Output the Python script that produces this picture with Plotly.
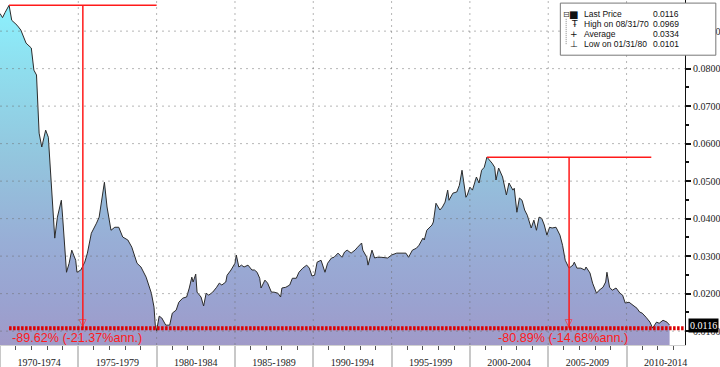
import plotly.graph_objects as go
import pandas as pd

# ---------------- data ----------------
dates = [
    "1970-01", "1970-03", "1970-05", "1970-08", "1970-10", "1971-02", "1971-05", "1971-09",
    "1972-01", "1972-03", "1972-05", "1972-07", "1972-09", "1972-12", "1973-02", "1973-05",
    "1973-07", "1973-09", "1973-12", "1974-01", "1974-04", "1974-06", "1974-08", "1974-11",
    "1974-12", "1975-03", "1975-06", "1975-08", "1975-11", "1976-03", "1976-05", "1976-09",
    "1976-11", "1977-02", "1977-05", "1977-08", "1977-11", "1978-03", "1978-06", "1978-10",
    "1979-01", "1979-05", "1979-09", "1979-11", "1979-12", "1980-01", "1980-03", "1980-05",
    "1980-08", "1980-11", "1981-01", "1981-04", "1981-06", "1981-09", "1981-12", "1982-02",
    "1982-04", "1982-05", "1982-07", "1982-08", "1982-11", "1983-01", "1983-03", "1983-05",
    "1983-08", "1983-11", "1984-01", "1984-03", "1984-06", "1984-07", "1984-10", "1985-01",
    "1985-02", "1985-04", "1985-06", "1985-08", "1985-11", "1986-02", "1986-04", "1986-06",
    "1986-08", "1986-09", "1986-12", "1987-02", "1987-05", "1987-07", "1987-10", "1987-12",
    "1988-01", "1988-04", "1988-07", "1988-09", "1988-12", "1989-02", "1989-05", "1989-08",
    "1989-10", "1989-12", "1990-02", "1990-04", "1990-07", "1990-10", "1990-12", "1991-03",
    "1991-05", "1991-08", "1991-11", "1992-01", "1992-03", "1992-06", "1992-09", "1992-11",
    "1993-02", "1993-03", "1993-06", "1993-07", "1993-10", "1993-12", "1994-02", "1994-05",
    "1994-08", "1994-10", "1995-01", "1995-05", "1995-09", "1995-12", "1996-02", "1996-05",
    "1996-08", "1996-10", "1997-01", "1997-02", "1997-04", "1997-08", "1997-09", "1997-11",
    "1998-02", "1998-04", "1998-06", "1998-08", "1998-09", "1998-12", "1999-03", "1999-05",
    "1999-07", "1999-10", "1999-11", "2000-01", "2000-03", "2000-06", "2000-08", "2000-10",
    "2000-12", "2001-02", "2001-06", "2001-08", "2001-09", "2001-11", "2002-02", "2002-05",
    "2002-07", "2002-10", "2002-11", "2003-01", "2003-03", "2003-05", "2003-07", "2003-09",
    "2003-12", "2004-02", "2004-04", "2004-06", "2004-08", "2004-10", "2004-12", "2005-02",
    "2005-04", "2005-07", "2005-10", "2005-12", "2006-02", "2006-05", "2006-08", "2006-09",
    "2006-11", "2007-02", "2007-05", "2007-06", "2007-09", "2007-11", "2008-02", "2008-04",
    "2008-07", "2008-09", "2008-10", "2008-12", "2009-02", "2009-05", "2009-08", "2009-10",
    "2009-12", "2010-03", "2010-06", "2010-09", "2010-11", "2011-01", "2011-04", "2011-07",
    "2011-09", "2011-12", "2012-02", "2012-05", "2012-08", "2012-10",
]
values = [
    0.0947, 0.0936, 0.0950, 0.0969, 0.0929, 0.0916, 0.0903, 0.0868,
    0.0855, 0.0796, 0.0783, 0.0628, 0.0591, 0.0636, 0.0617, 0.0441,
    0.0348, 0.0404, 0.0449, 0.0404, 0.0257, 0.0281, 0.0316, 0.0289,
    0.0257, 0.0263, 0.0284, 0.0308, 0.0361, 0.0388, 0.0404, 0.0497,
    0.0431, 0.0369, 0.0377, 0.0377, 0.0351, 0.0343, 0.0324, 0.0281,
    0.0271, 0.0244, 0.0201, 0.0164, 0.0116, 0.0101, 0.0140, 0.0135,
    0.0116, 0.0116, 0.0148, 0.0156, 0.0177, 0.0188, 0.0191, 0.0215,
    0.0244, 0.0231, 0.0252, 0.0204, 0.0191, 0.0167, 0.0201, 0.0196,
    0.0204, 0.0217, 0.0228, 0.0223, 0.0231, 0.0249, 0.0263, 0.0281,
    0.0303, 0.0271, 0.0276, 0.0271, 0.0276, 0.0263, 0.0263, 0.0257,
    0.0241, 0.0215, 0.0236, 0.0228, 0.0204, 0.0204, 0.0201, 0.0191,
    0.0215, 0.0217, 0.0223, 0.0241, 0.0241, 0.0257, 0.0268, 0.0276,
    0.0268, 0.0247, 0.0249, 0.0284, 0.0289, 0.0257, 0.0281, 0.0295,
    0.0297, 0.0308, 0.0297, 0.0311, 0.0316, 0.0308, 0.0316, 0.0324,
    0.0335, 0.0316, 0.0297, 0.0276, 0.0316, 0.0295, 0.0297, 0.0297,
    0.0297, 0.0295, 0.0303, 0.0308, 0.0308, 0.0308, 0.0297, 0.0316,
    0.0321, 0.0329, 0.0348, 0.0343, 0.0369, 0.0383, 0.0391, 0.0441,
    0.0423, 0.0431, 0.0444, 0.0476, 0.0449, 0.0468, 0.0471, 0.0489,
    0.0529, 0.0457, 0.0463, 0.0484, 0.0476, 0.0511, 0.0495, 0.0529,
    0.0537, 0.0564, 0.0548, 0.0537, 0.0503, 0.0535, 0.0511, 0.0463,
    0.0495, 0.0476, 0.0481, 0.0417, 0.0455, 0.0449, 0.0423, 0.0409,
    0.0375, 0.0396, 0.0369, 0.0404, 0.0401, 0.0383, 0.0356, 0.0377,
    0.0375, 0.0377, 0.0356, 0.0329, 0.0289, 0.0268, 0.0276, 0.0284,
    0.0268, 0.0268, 0.0263, 0.0271, 0.0255, 0.0228, 0.0201, 0.0209,
    0.0217, 0.0231, 0.0257, 0.0217, 0.0209, 0.0215, 0.0201, 0.0196,
    0.0175, 0.0177, 0.0169, 0.0161, 0.0151, 0.0148, 0.0137, 0.0124,
    0.0108, 0.0124, 0.0121, 0.0129, 0.0124, 0.0116,
]

period_labels = ["1970-1974", "1975-1979", "1980-1984", "1985-1989", "1990-1994",
                 "1995-1999", "2000-2004", "2005-2009", "2010-2014"]
period_starts = ["1970-01-01", "1975-01-01", "1980-01-01", "1985-01-01", "1990-01-01",
                 "1995-01-01", "2000-01-01", "2005-01-01", "2010-01-01"]
y_ticks = [0.01, 0.02, 0.03, 0.04, 0.05, 0.06, 0.07, 0.08, 0.09]

legend_labels = ["Last Price", "High on 08/31/70", "Average", "Low on 01/31/80"]
legend_values = ["0.0116", "0.0969", "0.0334", "0.0101"]

drawdown_peak_dates = ["1970-08", "2001-02"]
drawdown_end_dates = ["1980-01", "2011-08"]
drawdown_texts = ["-89.62% (-21.37%ann.)", "-80.89% (-14.68%ann.)"]
floor_level = 0.0108

# ---------------- figure ----------------
x_range = ["1970-01-01", "2013-09-25"]
y_range = [0.0063, 0.0983]
RED = "#ff1a1a"

fig = go.Figure()
fig.add_trace(go.Scatter(
    x=dates, y=values, mode="lines", fill="tozeroy",
    line=dict(color="#2b2b2b", width=1),
    fillgradient=dict(type="vertical", start=y_range[0], stop=y_range[1],
                      colorscale=[[0.0, "#a09ac8"], [0.12, "#9aa2d0"], [0.3, "#98aed6"],
                                  [0.55, "#93c6de"], [0.8, "#8fdeee"], [1.0, "#8cf2ff"]]),
    showlegend=False, hoverinfo="skip",
))

mids = [pd.Timestamp(s) + pd.DateOffset(months=30) for s in period_starts]
fig.add_trace(go.Scatter(x=[mids[0]], y=[None], xaxis="x2", mode="lines",
                         showlegend=False, hoverinfo="skip"))

shapes = []
annotations = []

# grid drawn above the fill
for v in y_ticks:
    shapes.append(dict(type="line", xref="paper", x0=0, x1=1, yref="y", y0=v, y1=v,
                       line=dict(color="rgba(110,110,110,0.5)", width=1, dash="2px,4px"),
                       layer="above"))
for s in period_starts[1:]:
    shapes.append(dict(type="line", xref="x", x0=s, x1=s, yref="paper", y0=0, y1=1,
                       line=dict(color="rgba(110,110,110,0.5)", width=1, dash="2px,4px"),
                       layer="above"))

val_by_date = dict(zip(dates, values))
for pk, en, txt in zip(drawdown_peak_dates, drawdown_end_dates, drawdown_texts):
    pv = val_by_date[pk]
    t0, t1 = pd.Timestamp(pk), pd.Timestamp(en)
    mid = t0 + (t1 - t0) / 2
    shapes.append(dict(type="line", xref="x", yref="y", x0=t0, x1=t1, y0=pv, y1=pv,
                       line=dict(color=RED, width=1.5)))
    shapes.append(dict(type="line", xref="x", yref="y", x0=mid, x1=mid, y0=pv, y1=floor_level,
                       line=dict(color=RED, width=1.5)))
    annotations.append(dict(x=mid, y=floor_level, xref="x", yref="y", text="▽",
                            showarrow=False, yanchor="bottom", yshift=-2,
                            font=dict(color=RED, size=10, family="DejaVu Sans")))
    annotations.append(dict(x=mid, y=floor_level, xref="x", yref="y", text=txt,
                            showarrow=False, yanchor="top", xshift=-6, yshift=-1,
                            font=dict(color=RED, size=12.6, family="Liberation Sans")))

shapes.append(dict(type="line", xref="x", yref="y", x0=drawdown_peak_dates[0], x1=x_range[1],
                   y0=floor_level, y1=floor_level,
                   line=dict(color="#dd0000", width=4, dash="2.5px,1.5px")))

# legend box
shapes.append(dict(type="rect", xref="paper", yref="paper", x0=0.818, x1=1.045,
                   y0=0.840, y1=0.991, fillcolor="white", line=dict(color="#777", width=1)))
shapes.append(dict(type="line", xref="paper", yref="paper", x0=0.8265, x1=0.8265,
                   y0=0.872, y1=0.948, line=dict(color="#888", width=1, dash="1px,1px")))
row_y = [0.959, 0.930, 0.901, 0.872]
row_sym = ["■", "Ŧ", "+", "⊥"]
for i, (lab, val) in enumerate(zip(legend_labels, legend_values)):
    annotations.append(dict(xref="paper", yref="paper", x=0.849, y=row_y[i], text=lab,
                            xanchor="left", yanchor="middle", showarrow=False,
                            font=dict(size=8.5, color="#111", family="Liberation Sans")))
    annotations.append(dict(xref="paper", yref="paper", x=0.994, y=row_y[i], text=val,
                            xanchor="right", yanchor="middle", showarrow=False,
                            font=dict(size=8.5, color="#111", family="Liberation Sans")))
    annotations.append(dict(xref="paper", yref="paper", x=0.846, y=row_y[i],
                            text=row_sym[i], xanchor="right", yanchor="middle", showarrow=False,
                            font=dict(size=10 if i == 0 else 9, color="#111", family="DejaVu Sans")))
annotations.append(dict(xref="paper", yref="paper", x=0.8265, y=row_y[0], text="⊟",
                        xanchor="center", yanchor="middle", showarrow=False,
                        font=dict(size=8, color="#333", family="DejaVu Sans")))

# last price tag
annotations.append(dict(xref="paper", yref="y", x=1.0, y=values[-1], text=f"{values[-1]:.4f}",
                        xanchor="left", yanchor="middle", xshift=3, showarrow=False,
                        bgcolor="black", borderpad=1,
                        font=dict(color="white", size=10, family="Liberation Serif")))

fig.update_layout(
    width=720, height=367,
    margin=dict(l=0, r=35, t=0, b=22),
    paper_bgcolor="white", plot_bgcolor="white",
    showlegend=False,
    xaxis=dict(type="date", range=x_range, tickvals=period_starts, showticklabels=False,
               ticks="outside", ticklen=22, tickwidth=2, tickcolor="#c8c8c8",
               minor=dict(dtick="M12", ticks="outside", ticklen=4, tickcolor="#555", tickwidth=1),
               showgrid=False, zeroline=False, showline=True, linecolor="#d0d0d0", linewidth=1),
    xaxis2=dict(type="date", range=x_range, overlaying="x", side="bottom", anchor="y",
                tickvals=mids, ticktext=period_labels, ticks="outside", ticklen=8,
                tickcolor="rgba(0,0,0,0)", showgrid=False, zeroline=False, showline=False,
                tickfont=dict(family="Liberation Serif", size=10, color="#222")),
    yaxis=dict(side="right", range=y_range, tickvals=y_ticks, tickformat=".4f",
               ticks="outside", ticklen=5, tickwidth=2, tickcolor="#111",
               minor=dict(dtick=0.005, tick0=0, ticks="outside", ticklen=3, tickcolor="#111"),
               showgrid=False, zeroline=False, showline=True, linecolor="#111", linewidth=1,
               tickfont=dict(family="Liberation Serif", size=10, color="#222")),
    shapes=shapes, annotations=annotations,
)

fig.write_html("out.html", config={"displayModeBar": False},
               post_script="document.body.style.margin='0';")
